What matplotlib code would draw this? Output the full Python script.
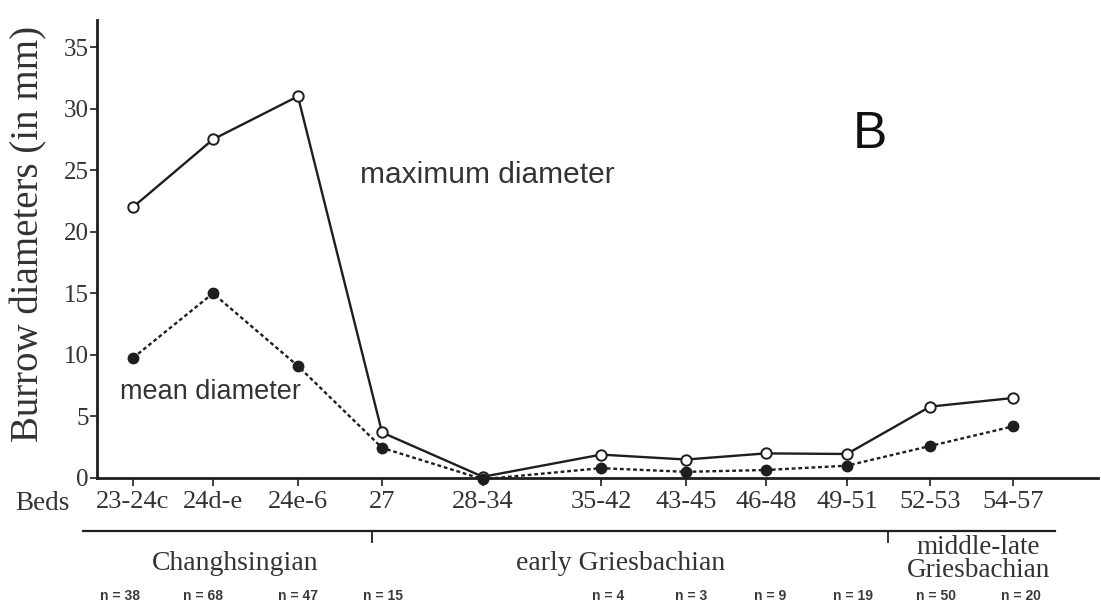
import matplotlib
matplotlib.use("Agg")
import matplotlib.pyplot as plt
from matplotlib.lines import Line2D
import matplotlib.transforms as mtransforms

# ---- data ----
beds = ["23-24c", "24d-e", "24e-6", "27", "28-34", "35-42", "43-45", "46-48", "49-51", "52-53", "54-57"]
bed_pos = [0, 0.96, 1.98, 2.99, 4.2, 5.62, 6.64, 7.6, 8.57, 9.57, 10.57]
max_diam = [22.0, 27.5, 31.0, 3.7, 0.1, 1.9, 1.5, 2.0, 1.95, 5.8, 6.5]
mean_diam = [9.75, 15.0, 9.1, 2.45, -0.1, 0.8, 0.5, 0.65, 1.0, 2.6, 4.2]
n_labels = ["n = 38", "n = 68", "n = 47", "n = 15", "n = 4", "n = 3", "n = 9", "n = 19", "n = 50", "n = 20"]
n_pos = [-0.16, 0.84, 1.98, 3.0, 5.7, 6.7, 7.65, 8.64, 9.64, 10.66]
stages = ["Changhsingian", "early Griesbachian", "middle-late\nGriesbachian"]
stage_pos = [1.23, 5.85, 10.15]
yticks = [0, 5, 10, 15, 20, 25, 30, 35]

W, H = 1101, 610
fig = plt.figure(figsize=(W / 100, H / 100), dpi=100)
fig.patch.set_facecolor("white")

def fx(px):
    return px / W

def fy(py):
    return 1 - py / H

ax = fig.add_axes([fx(97), fy(478), fx(1098) - fx(97), fy(20) - fy(478)])
ax.set_xlim(-0.432, 11.585)
ax.set_ylim(0, 37.2)

ink = "#1e1e1e"
txt = "#333333"
serif = ["Liberation Serif", "DejaVu Serif"]
sans = ["Liberation Sans", "DejaVu Sans"]

ax.plot(bed_pos, max_diam, color=ink, lw=1.7, marker="o", ms=7.5,
        mfc="white", mec=ink, mew=1.4, clip_on=False, zorder=3)
ax.plot(bed_pos, mean_diam, color=ink, lw=1.7, ls=(0, (1.6, 1.2)), marker="o", ms=7.5,
        mfc=ink, mec=ink, clip_on=False, zorder=4)

for s in ["top", "right"]:
    ax.spines[s].set_visible(False)
for s in ["left", "bottom"]:
    ax.spines[s].set_linewidth(2.0)
    ax.spines[s].set_color(ink)

ax.set_yticks(yticks)
ax.set_yticklabels([str(v) for v in yticks], family=serif, fontsize=18, color=txt)
ax.tick_params(axis="y", direction="out", length=5, width=1.2, pad=1, colors=ink, labelcolor=txt)
ax.set_xticks(bed_pos)
ax.set_xticklabels(beds, family=serif, fontsize=19, color=txt)
ax.tick_params(axis="x", direction="out", length=6, width=1.2, pad=3, colors=ink, labelcolor=txt)

ax.set_ylabel("Burrow diameters (in mm)", family=serif, fontsize=28, color=txt)
ax.yaxis.set_label_coords(-0.05, 0.532)

# in-plot labels
ax.text(2.72, 24.6, "maximum diameter", family=sans, fontsize=21.5, color=txt, ha="left", va="center")
ax.text(-0.16, 7.0, "mean diameter", family=sans, fontsize=19.5, color=txt, ha="left", va="center")
ax.text(8.85, 26.8, "B", family=sans, fontsize=37, color="#111111", ha="center", va="baseline")

# Beds label
fig.text(fx(15), fy(503), "Beds", family=serif, fontsize=19.5, color=txt, ha="left", va="center")

# stage line and dividers
fig.add_artist(Line2D([fx(83), fx(1055)], [fy(531), fy(531)], color=ink, lw=1.6))
for px in (372, 888):
    fig.add_artist(Line2D([fx(px), fx(px)], [fy(531), fy(542)], color=ink, lw=1.3))

blend = mtransforms.blended_transform_factory(ax.transData, fig.transFigure)
for label, p in zip(stages, stage_pos):
    if "\n" in label:
        fig.text(p, fy(559), label, transform=blend, family=serif, fontsize=19.5,
                 color=txt, ha="center", va="center", linespacing=0.85)
    else:
        fig.text(p, fy(563), label, transform=blend, family=serif, fontsize=20,
                 color=txt, ha="center", va="center")

for label, p in zip(n_labels, n_pos):
    fig.text(p, fy(596), label, transform=blend, family=sans, fontsize=10,
             fontweight="bold", color="#3a3a3a", ha="center", va="center")

fig.savefig("out.png", dpi=100, facecolor="white")
